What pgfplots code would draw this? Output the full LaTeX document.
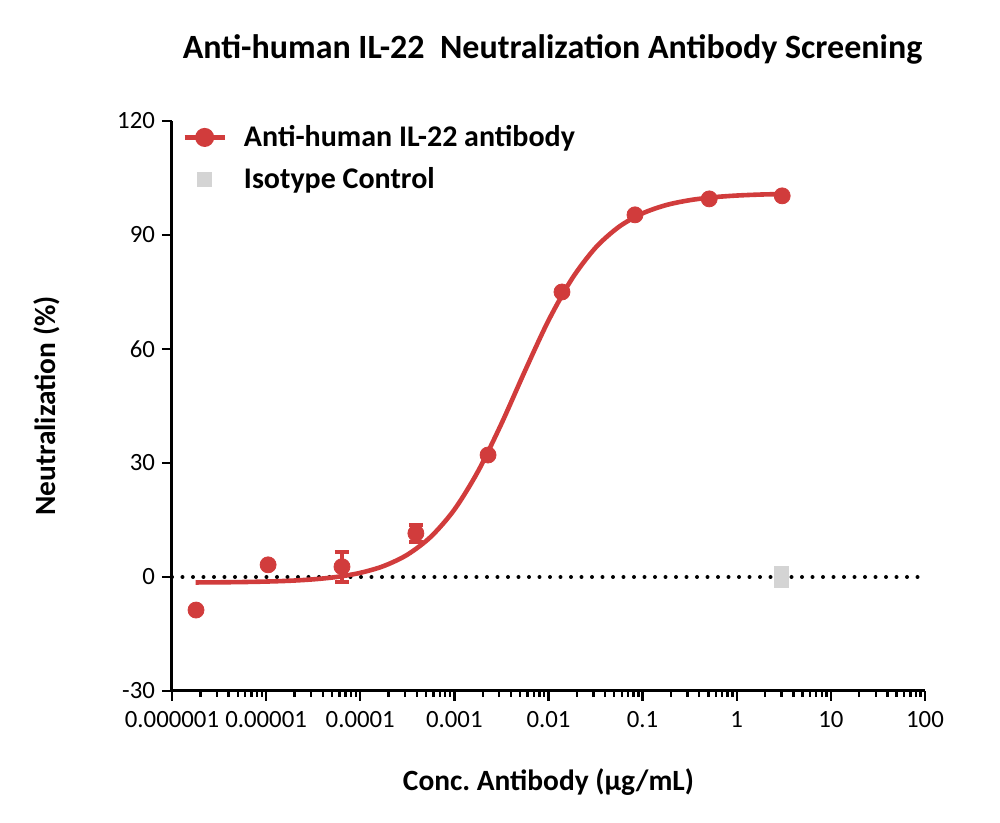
\documentclass[border=0pt]{standalone}
\usepackage{pgfplots}
\pgfplotsset{compat=1.18}
\usepackage{fontspec}
\setmainfont{Carlito}
\frenchspacing
\definecolor{abred}{RGB}{209,60,60}
\definecolor{isogray}{RGB}{212,212,212}
\pgfplotsset{
  mylegline/.style={legend image code/.code={\draw[mark repeat=2,mark phase=2,##1] plot coordinates {(0pt,0pt) (10pt,0pt) (20pt,0pt)};}},
  mylegmark/.style={legend image code/.code={\draw[##1, draw=none] plot coordinates {(10pt,0pt)};}},
}
\begin{document}
\begin{tikzpicture}
\path[use as bounding box] (-86pt,-66pt) rectangle (414pt,345.5pt);
\begin{axis}[
  at={(0pt,0pt)}, anchor=south west,
  scale only axis, width=376.5pt, height=285pt,
  xmode=log, xmin=1e-6, xmax=100,
  ymin=-30, ymax=120,
  ytick={-30,0,30,60,90,120},
  xtick={1e-6,1e-5,1e-4,1e-3,1e-2,1e-1,1,10,100},
  xticklabels={0.000001,0.00001,0.0001,0.001,0.01,0.1,1,10,100},
  axis x line*=bottom, axis y line*=left,
  axis line style={line width=1.5pt,-},
  tick align=outside,
  major tick length=5pt, minor tick length=3pt,
  every tick/.style={black, line width=1.2pt},
  /pgf/number format/assume math mode=true,
  ticklabel style={font=\fontsize{12.4}{14}\selectfont},
  xticklabel style={yshift=-1.5pt},
  xlabel={\textbf{Conc. Antibody (µg/mL)}},
  ylabel={\textbf{Neutralization (\%)}},
  label style={font=\fontsize{14.7}{17}\selectfont},
  xlabel style={at={(axis description cs:0.5,-0.1596)}, anchor=center},
  ylabel style={at={(axis description cs:-0.166,0.5)}, anchor=center},
  clip=false,
  legend style={draw=none, fill=none, at={(axis description cs:0,1)}, anchor=north west,
    xshift=5pt, yshift=0pt, inner xsep=0pt, inner ysep=0pt,
    font=\bfseries\fontsize{15}{17}\selectfont, row sep=5pt},
  legend cell align=left,
]
% zero reference line
\addplot[black, line width=2pt, dash pattern=on 0pt off 5.25pt, line cap=round, forget plot]
  coordinates {(1e-6,0) (100,0)};
% fitted curve
\addplot[abred, line width=2.3pt, smooth, forget plot] coordinates {
(1.778e-6,-1.44) (3.162e-6,-1.40) (5.623e-6,-1.33) (1e-5,-1.20) (1.778e-5,-0.99)
(3.162e-5,-0.62) (5.623e-5,0.01) (1e-4,1.09) (1.778e-4,2.89) (3.162e-4,5.86)
(5.623e-4,10.59) (1e-3,17.73) (1.778e-3,27.74) (3.162e-3,40.34) (5.623e-3,54.22)
(1e-2,67.5) (1.778e-2,78.5) (3.162e-2,86.66) (5.623e-2,92.18) (0.1,95.7)
(0.1778,97.87) (0.3162,99.16) (0.5623,99.93) (1,100.38) (1.778,100.64) (3.02,100.78)
};
% error-bar points
\addplot[abred, only marks, mark=*, mark size=4pt, forget plot,
  error bars/.cd, y dir=both, y explicit,
  error bar style={line width=1.7pt, abred}, error mark options={abred, line width=2pt, mark size=3.5pt, rotate=90}]
  coordinates {(6.4e-5,2.7) +- (0,4.0) (3.9e-4,11.5) +- (0,2.2)};
% measured points
\addplot[abred, only marks, mark=*, mark size=4pt, forget plot] coordinates {
(1.8e-6,-8.7) (1.05e-5,3.2) (2.28e-3,32.1) (0.0139,75) (0.083,95.3) (0.51,99.5) (3.04,100.3)
};
% isotype control
\addplot[isogray, only marks, mark=square*, mark size=3.5pt, forget plot] coordinates {(3.0,1.0) (3.0,-1.0)};
\addlegendimage{abred, line width=2.3pt, mark=*, mark size=3.6pt, mylegline}
\addlegendentry{\hspace{6.5pt}Anti-human IL-22 antibody}
\addlegendimage{isogray, only marks, mark=square*, mark size=3.5pt, mylegmark}
\addlegendentry{\hspace{6.5pt}Isotype Control}
\node[font=\bfseries\fontsize{17}{20}\selectfont] at (axis description cs:0.5,1) [yshift=36pt, xshift=2pt] {Anti-human IL-22~ Neutralization Antibody Screening};
\end{axis}
\end{tikzpicture}
\end{document}
